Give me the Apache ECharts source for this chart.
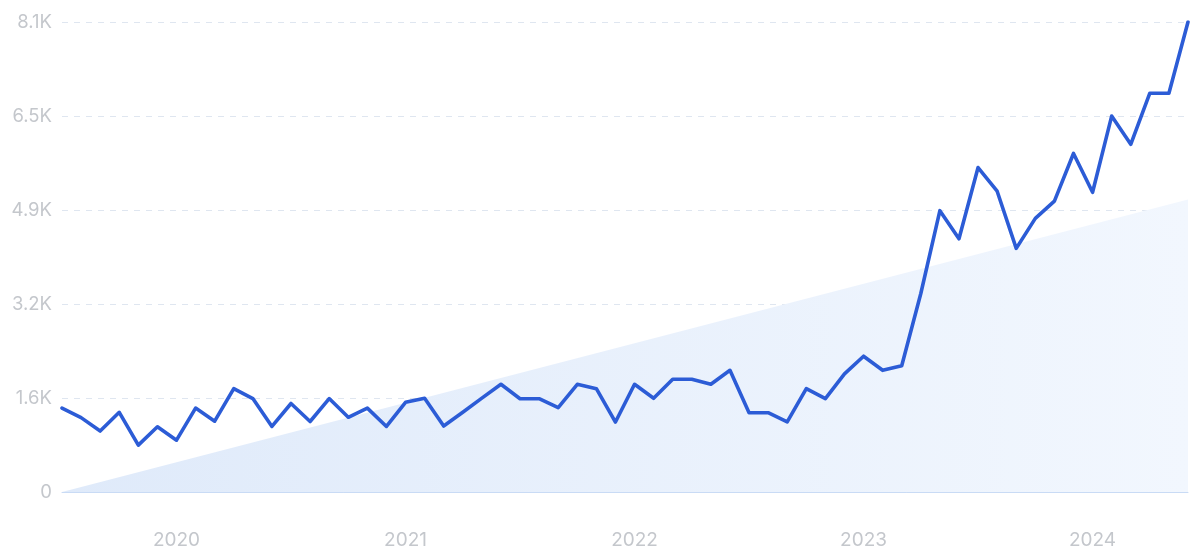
<!DOCTYPE html>
<html>
<head>
<meta charset="utf-8">
<script src="https://cdn.jsdelivr.net/npm/echarts@6/dist/echarts.min.js"></script>
<style>
html,body{margin:0;padding:0;background:#fff;}
#chart{width:1200px;height:554px;}
</style>
</head>
<body>
<div id="chart"></div>
<script>
// Monthly categories Jul 2019 .. Jun 2024
const months = [];
for (let y = 2019; y <= 2024; y++) {
  for (let m = 1; m <= 12; m++) {
    if ((y === 2019 && m < 7) || (y === 2024 && m > 6)) continue;
    months.push(y + '-' + String(m).padStart(2, '0'));
  }
}
const volume = [
  1446, 1282, 1051, 1373, 808, 1124, 893, 1446, 1221, 1781,
  1610, 1130, 1525, 1215, 1610, 1288, 1446, 1130, 1546, 1615,
  1137, 1375, 1617, 1856, 1608, 1608, 1453, 1856, 1781, 1206,
  1856, 1615, 1942, 1942, 1856, 2097, 1367, 1367, 1208, 1781,
  1610, 2036, 2340, 2097, 2176, 3421, 4849, 4363, 5591, 5184,
  4199, 4716, 5014, 5834, 5165, 6478, 5992, 6873, 6873, 8100
];
const trendStart = 0;
const trendEnd = 5040;
const yTicks = ['0', '1.6K', '3.2K', '4.9K', '6.5K', '8.1K'];
const yMax = 8100;
const yInterval = 1620;

const chart = echarts.init(document.getElementById('chart'), null, {renderer: 'canvas'});
chart.setOption({
  animation: false,
  backgroundColor: '#ffffff',
  grid: {left: 62, right: 12, top: 22, bottom: 62, containLabel: false},
  xAxis: {
    type: 'category',
    data: months,
    boundaryGap: false,
    axisLine: {show: true, lineStyle: {color: '#c9dbf5', width: 1}},
    axisTick: {show: false},
    splitLine: {show: false},
    axisLabel: {
      interval: function (idx, val) { return val.endsWith('-01'); },
      formatter: function (val) { return val.slice(0, 4); },
      color: '#c4c7cc',
      fontFamily: 'Inter, "Noto Sans", sans-serif',
      fontSize: 19,
      margin: 39
    }
  },
  yAxis: {
    type: 'value',
    min: 0,
    max: yMax,
    interval: yInterval,
    axisLine: {show: false},
    axisTick: {show: false},
    splitLine: {show: true, lineStyle: {color: '#dfe6f0', type: [6, 6], width: 1}},
    axisLabel: {
      formatter: function (v) { return yTicks[Math.round(v / yInterval)]; },
      color: '#c4c7cc',
      fontFamily: 'Inter, "Noto Sans", sans-serif',
      fontSize: 18.5,
      margin: 10
    }
  },
  series: [
    {
      type: 'line',
      data: [[months[0], trendStart], [months[months.length - 1], trendEnd]],
      symbol: 'none',
      lineStyle: {width: 0, opacity: 0},
      areaStyle: {
        opacity: 1,
        color: new echarts.graphic.LinearGradient(0, 0, 1, 0, [
          {offset: 0, color: '#dfeafa'},
          {offset: 1, color: '#f2f7fe'}
        ])
      },
      z: 1,
      silent: true
    },
    {
      type: 'line',
      data: volume,
      symbol: 'none',
      lineStyle: {color: '#2c5cd6', width: 3.6, join: 'round', cap: 'round'},
      z: 3
    }
  ]
});
</script>
</body>
</html>
